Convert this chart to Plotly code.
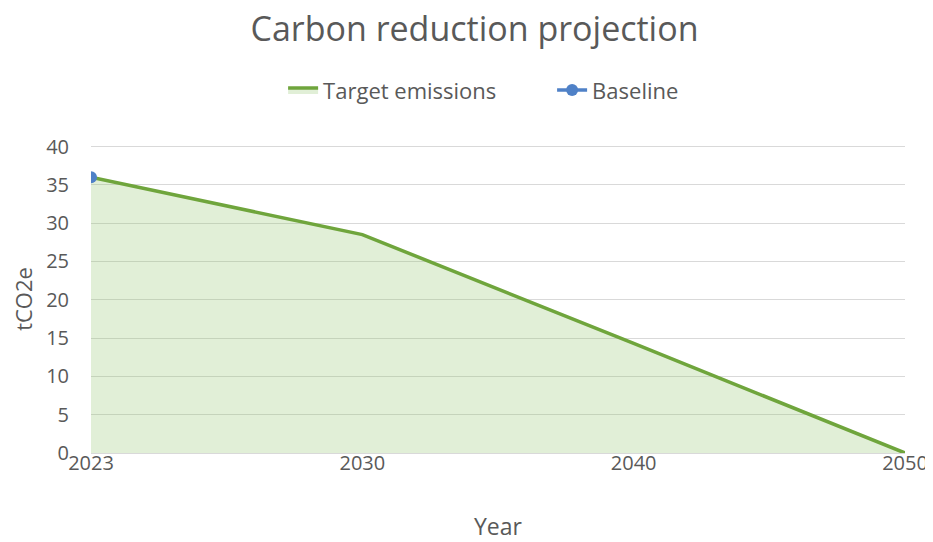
import plotly.graph_objects as go

years = ["2023", "2030", "2040", "2050"]
target = [36, 28.5, 14.3, 0]
baseline_year = ["2023"]
baseline_val = [36]

FONT = "Open Sans"
fig = go.Figure()
fig.add_trace(go.Scatter(
    x=years, y=target, name="Target emissions", mode="lines",
    line=dict(color="#6FA53C", width=3.5),
    fill="tozeroy", fillcolor="rgba(140,195,100,0.26)",
))
fig.add_trace(go.Scatter(
    x=baseline_year, y=baseline_val, name="Baseline", mode="lines+markers",
    line=dict(color="#4F81C7", width=3.5),
    marker=dict(color="#4F81C7", size=12),
))
# page body has an 8px default margin, so the layout is offset by -8px
fig.update_layout(
    width=933, height=542,
    margin=dict(l=83, r=36, t=137, b=97),
    paper_bgcolor="white", plot_bgcolor="white",
    font=dict(family=FONT, color="#595959", size=20),
    title=dict(text="Carbon reduction projection", x=0.5, xanchor="center",
               y=0.962, yanchor="middle", font=dict(size=34, color="#595959")),
    legend=dict(orientation="h", x=0.236, xanchor="left", y=1.178, yanchor="middle",
                entrywidth=224, font=dict(size=22, color="#595959")),
    showlegend=True,
)
fig.update_xaxes(type="category", range=[0, 3], showgrid=False, zeroline=False,
                 showline=False, ticks="", tickfont=dict(size=20), automargin=False,
                 ticklabelstandoff=-4,
                 title=dict(text="Year", font=dict(size=23), standoff=43))
fig.update_yaxes(range=[0, 40.2], dtick=5, showgrid=True, gridcolor="#D9D9D9",
                 gridwidth=1, zeroline=True, zerolinecolor="#D9D9D9", zerolinewidth=1,
                 showline=False, ticks="", automargin=False,
                 tickfont=dict(size=20), ticklabelstandoff=21,
                 title=dict(text="tCO2e", font=dict(size=22), standoff=22))
fig.write_html("out.html")
